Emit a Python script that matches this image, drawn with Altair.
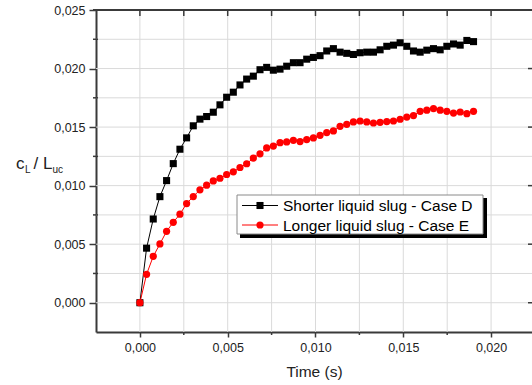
import altair as alt
import pandas as pd

# ---- data ----
time_s = [0.0, 0.00038, 0.00076, 0.00114, 0.00152, 0.0019, 0.00228, 0.00266, 0.00304, 0.00342,
          0.0038, 0.00418, 0.00456, 0.00494, 0.00532, 0.0057, 0.00608, 0.00646, 0.00684, 0.00722,
          0.0076, 0.00798, 0.00836, 0.00874, 0.00912, 0.0095, 0.00988, 0.01026, 0.01064, 0.01102,
          0.0114, 0.01178, 0.01216, 0.01254, 0.01292, 0.0133, 0.01368, 0.01406, 0.01444, 0.01482,
          0.0152, 0.01558, 0.01596, 0.01634, 0.01672, 0.0171, 0.01748, 0.01786, 0.01824, 0.01862,
          0.019]

case_d = [0.0, 0.00466, 0.00715, 0.00906, 0.01043, 0.01188, 0.01311, 0.01408, 0.01511, 0.01568,
          0.0159, 0.01627, 0.0169, 0.01755, 0.01798, 0.0186, 0.0191, 0.01935, 0.0199, 0.0201,
          0.01986, 0.01995, 0.0202, 0.0205, 0.0205, 0.0208, 0.02095, 0.0211, 0.0215, 0.0217,
          0.0214, 0.0213, 0.0212, 0.02135, 0.0214, 0.0214, 0.0216, 0.0219, 0.0220, 0.0222,
          0.0219, 0.0215, 0.0214, 0.02157, 0.0217, 0.0216, 0.0219, 0.0221, 0.0220, 0.0224,
          0.0223]

case_e = [0.0, 0.00243, 0.00396, 0.00502, 0.0061, 0.00687, 0.00756, 0.00847, 0.00907, 0.00964,
          0.01004, 0.0104, 0.01063, 0.01095, 0.01118, 0.01155, 0.01187, 0.01235, 0.01272, 0.01322,
          0.01338, 0.01367, 0.01373, 0.01387, 0.01376, 0.01393, 0.01407, 0.0143, 0.01453, 0.01467,
          0.01507, 0.01524, 0.01544, 0.01552, 0.01544, 0.01535, 0.01541, 0.01547, 0.01552, 0.01567,
          0.01586, 0.01598, 0.01635, 0.01644, 0.01658, 0.01644, 0.01635, 0.0162, 0.01629, 0.01615,
          0.01635]

series_names = ["Shorter liquid slug - Case D", "Longer liquid slug - Case E"]

x_major = [0.0, 0.005, 0.01, 0.015, 0.02]
x_minor = [0.0025, 0.0075, 0.0125, 0.0175]
y_major = [0.0, 0.005, 0.01, 0.015, 0.02, 0.025]
y_minor = [0.0025, 0.0075, 0.0125, 0.0175, 0.0225]
x_grid = [0.0, 0.0025, 0.005, 0.0075, 0.01, 0.0125, 0.015, 0.0175, 0.02]
y_grid = [0.0, 0.0025, 0.005, 0.0075, 0.01, 0.0125, 0.015, 0.0175, 0.02, 0.0225]

W, H = 436, 322
FONT = "Liberation Sans"
AX = "#3a3a3a"
GRID = "#dadada"

df_d = pd.DataFrame({"t": time_s, "v": case_d})
df_e = pd.DataFrame({"t": time_s, "v": case_e})
one = pd.DataFrame({"a": [0]})

xs = alt.Scale(domain=[-0.0025, 0.02233], nice=False, zero=False)
ys = alt.Scale(domain=[-0.0025, 0.025], nice=False, zero=False)

lab = "replace(format(datum.value, '.3f'), '.', ',')"

x_axis = alt.Axis(values=x_major, labelExpr=lab, title="Time (s)", grid=False,
                  domainColor=AX, domainWidth=2, tickColor=AX, tickWidth=1.5, tickSize=5,
                  labelFont=FONT, labelFontSize=12.5, labelColor="#222", labelPadding=4,
                  titleFont=FONT, titleFontSize=15.5, titleFontWeight="normal",
                  titleColor="#222", titlePadding=11)
y_axis = alt.Axis(values=y_major, labelExpr=lab, title=None, grid=False,
                  domainColor=AX, domainWidth=2, tickColor=AX, tickWidth=1.5, tickSize=7,
                  labelFont=FONT, labelFontSize=12.5, labelColor="#222", labelPadding=4)

def X(field="t"):
    return alt.X(f"{field}:Q", scale=xs, axis=x_axis)

def Y(field="v"):
    return alt.Y(f"{field}:Q", scale=ys, axis=y_axis)

# grid
grid_x = alt.Chart(pd.DataFrame({"t": x_grid})).mark_rule(color=GRID, strokeWidth=1).encode(
    x=X(), y=alt.value(0), y2=alt.value(H))
grid_y = alt.Chart(pd.DataFrame({"v": y_grid})).mark_rule(color=GRID, strokeWidth=1).encode(
    y=Y(), x=alt.value(0), x2=alt.value(W))

# data
line_d = alt.Chart(df_d).mark_line(color="black", strokeWidth=1).encode(x=X(), y=Y())
pts_d = alt.Chart(df_d).mark_point(shape="square", filled=True, color="black", size=50, opacity=1).encode(
    x=X(), y=Y())
line_e = alt.Chart(df_e).mark_line(color="#ff0000", strokeWidth=1).encode(x=X(), y=Y())
pts_e = alt.Chart(df_e).mark_point(shape="circle", filled=True, color="#ff0000", size=52, opacity=1).encode(
    x=X(), y=Y())

# frame: top line with inward ticks, right inward ticks, minor ticks
top_line = alt.Chart(one).mark_rule(color=AX, strokeWidth=2).encode(
    x=alt.value(-3), x2=alt.value(W), y=alt.value(0))
top_ticks = alt.Chart(pd.DataFrame({"t": x_grid})).mark_rule(color=AX, strokeWidth=1.5).encode(
    x=X(), y=alt.value(0), y2=alt.value(6))
right_ticks = alt.Chart(pd.DataFrame({"v": y_major})).mark_rule(color=AX, strokeWidth=1.5).encode(
    y=Y(), x=alt.value(W - 4), x2=alt.value(W))
bot_minor = alt.Chart(pd.DataFrame({"t": x_minor})).mark_rule(color=AX, strokeWidth=1.5).encode(
    x=X(), y=alt.value(H), y2=alt.value(H + 3))
left_minor = alt.Chart(pd.DataFrame({"v": y_minor})).mark_rule(color=AX, strokeWidth=1.5).encode(
    y=Y(), x=alt.value(-3), x2=alt.value(2))

# legend box
shadow = alt.Chart(one).mark_rect(color="black").encode(
    x=alt.value(144), x2=alt.value(391), y=alt.value(188), y2=alt.value(228))
box = alt.Chart(one).mark_rect(fill="white", stroke="#8a8a8a", strokeWidth=1).encode(
    x=alt.value(141), x2=alt.value(387), y=alt.value(185), y2=alt.value(224))
leg_line_d = alt.Chart(one).mark_rule(color="black", strokeWidth=1).encode(
    x=alt.value(146), x2=alt.value(182), y=alt.value(195.5))
leg_line_e = alt.Chart(one).mark_rule(color="#ff0000", strokeWidth=1).encode(
    x=alt.value(146), x2=alt.value(182), y=alt.value(215))
leg_pt_d = alt.Chart(one).mark_point(shape="square", filled=True, color="black", size=50, opacity=1).encode(
    x=alt.value(164), y=alt.value(195.5))
leg_pt_e = alt.Chart(one).mark_point(shape="circle", filled=True, color="#ff0000", size=52, opacity=1).encode(
    x=alt.value(164), y=alt.value(215))
leg_txt_d = alt.Chart(one).mark_text(align="left", baseline="middle", font=FONT, fontSize=15.5, color="black").encode(
    x=alt.value(187), y=alt.value(196), text=alt.value(series_names[0]))
leg_txt_e = alt.Chart(one).mark_text(align="left", baseline="middle", font=FONT, fontSize=15.5, color="black").encode(
    x=alt.value(187), y=alt.value(216), text=alt.value(series_names[1]))

# y title c_L / L_uc
def txt(s, x, y, size):
    return alt.Chart(one).mark_text(align="left", baseline="alphabetic", font=FONT, fontSize=size, color="#222").encode(
        x=alt.value(x), y=alt.value(y), text=alt.value(s))

ytitle = [txt("c", -80, 159, 17), txt("L", -71, 162.5, 10), txt("/ L", -62.5, 159, 17), txt("uc", -43.5, 162.5, 10)]

chart = alt.layer(
    grid_x, grid_y, line_d, line_e, pts_d, pts_e, top_line, top_ticks, right_ticks, bot_minor, left_minor,
    shadow, box, leg_line_d, leg_line_e, leg_pt_d, leg_pt_e, leg_txt_d, leg_txt_e, *ytitle
).properties(
    width=W, height=H,
    padding={"left": 96, "top": 10, "right": 0, "bottom": 53},
    autosize=alt.AutoSizeParams(type="none"),
    background="white",
).configure_view(stroke=None)

chart.save("out.html", embed_options={"renderer": "svg", "actions": False})
